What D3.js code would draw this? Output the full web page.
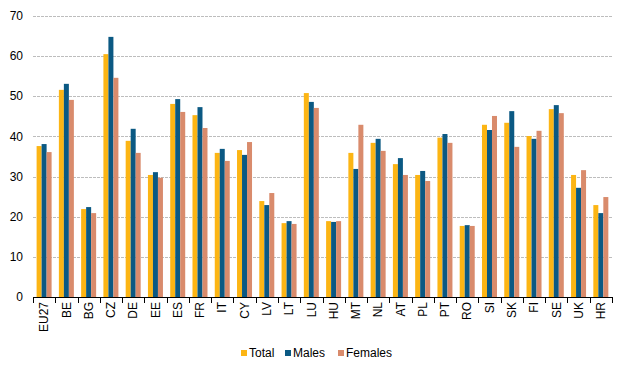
<!DOCTYPE html>
<html>
<head>
<meta charset="utf-8">
<script src="https://cdn.jsdelivr.net/npm/d3@7"></script>
<style>
  body { margin: 0; background: #fff; }
  text { font-family: "Liberation Sans", Arial, sans-serif; fill: #000; }
</style>
</head>
<body>
<div class="chart"></div>
<script>
// Chart data
var countries = ["EU27","BE","BG","CZ","DE","EE","ES","FR","IT","CY","LV","LT","LU",
                 "HU","MT","NL","AT","PL","PT","RO","SI","SK","FI","SE","UK","HR"];
var totalValues = [37.6,51.6,21.9,60.5,38.9,30.4,48.1,45.3,35.9,36.6,23.9,18.4,50.8,
                   18.9,35.9,38.4,33.1,30.4,39.7,17.7,42.9,43.4,40.1,46.8,30.4,22.9];
var maleValues = [38.1,53.1,22.4,64.8,41.9,31.1,49.3,47.3,36.9,35.4,22.9,18.9,48.6,
                  18.7,31.9,39.4,34.6,31.4,40.6,17.9,41.6,46.3,39.4,47.8,27.2,20.9];
var femaleValues = [36.1,49.1,20.9,54.6,35.9,29.7,46.1,42.1,33.9,38.6,25.9,18.2,47.1,
                    18.9,42.9,36.4,30.4,28.9,38.4,17.7,45.1,37.4,41.4,45.8,31.6,24.9];
var seriesNames = ["Total","Males","Females"];
var yTicks = [0,10,20,30,40,50,60,70];

var colors = {"Total": "#fcb514", "Males": "#0b5983", "Females": "#d98b6c"};

var svgWidth = 620;
var svgHeight = 371;
var margin = {top: 16, right: 7, bottom: 74, left: 33};
var width = svgWidth - margin.left - margin.right;
var height = svgHeight - margin.top - margin.bottom;

var svg = d3.select(".chart")
    .append("svg")
    .attr("width", svgWidth)
    .attr("height", svgHeight);

var chart = svg.append("g")
    .attr("transform", "translate(" + margin.left + "," + margin.top + ")");

var rows = countries.map(function(c, i) {
    return {country: c, Total: totalValues[i], Males: maleValues[i], Females: femaleValues[i]};
});

var x0 = d3.scaleBand().domain(countries).range([0, 579]).paddingInner(0).paddingOuter(0);
var x1 = d3.scaleBand().domain(seriesNames).range([3.6, 3.6 + 15]);
var y = d3.scaleLinear().domain([0, 70]).range([height, 0]);

// gridlines
chart.append("g")
    .selectAll("line")
    .data(yTicks.filter(function(d) { return d > 0; }))
    .enter()
    .append("line")
    .attr("x1", 0)
    .attr("x2", 579)
    .attr("y1", function(d) { return Math.round(y(d)) + 0.5; })
    .attr("y2", function(d) { return Math.round(y(d)) + 0.5; })
    .style("stroke", "#bdbdbd")
    .style("stroke-width", 1)
    .style("stroke-dasharray", "3,1");

// bars
var groups = chart.selectAll(".grp")
    .data(rows)
    .enter()
    .append("g")
    .attr("class", "grp")
    .attr("transform", function(d) { return "translate(" + x0(d.country) + ",0)"; });

groups.selectAll("rect")
    .data(function(d) { return seriesNames.map(function(s) { return {key: s, value: d[s]}; }); })
    .enter()
    .append("rect")
    .attr("x", function(d) { return x1(d.key); })
    .attr("width", x1.bandwidth())
    .attr("y", function(d) { return y(d.value); })
    .attr("height", function(d) { return height - y(d.value); })
    .style("fill", function(d) { return colors[d.key]; });

// y axis labels
chart.append("g")
    .selectAll("text")
    .data(yTicks)
    .enter()
    .append("text")
    .attr("x", -10)
    .attr("y", function(d) { return y(d); })
    .attr("dy", "0.35em")
    .attr("text-anchor", "end")
    .style("font-size", "12px")
    .text(function(d) { return d; });

// x axis
var bottomAxis = d3.axisBottom(x0).tickSize(0).tickPadding(0);
var xAxis = chart.append("g")
    .attr("transform", "translate(0," + height + ")")
    .call(bottomAxis);
xAxis.select(".domain").remove();

xAxis.append("line")
    .attr("x1", 0).attr("x2", 579)
    .attr("y1", 0.5).attr("y2", 0.5)
    .style("stroke", "#000");

xAxis.selectAll(".sep")
    .data(d3.range(countries.length + 1))
    .enter()
    .append("line")
    .attr("class", "sep")
    .attr("x1", function(i) { return Math.round(i * x0.step()) + 0.5; })
    .attr("x2", function(i) { return Math.round(i * x0.step()) + 0.5; })
    .attr("y1", 0).attr("y2", 6)
    .style("stroke", "#000");

xAxis.selectAll(".tick text")
    .attr("transform", "rotate(-90)")
    .attr("x", -5)
    .attr("y", 0)
    .attr("dy", "0.35em")
    .attr("text-anchor", "end")
    .style("font-size", "12px")
    .style("font-family", "'Liberation Sans', Arial, sans-serif")
    .style("fill", "#000");

// legend
var legendItems = [{name: "Total", x: 241}, {name: "Males", x: 285}, {name: "Females", x: 338}];
var legend = svg.append("g");
legend.selectAll("rect")
    .data(legendItems)
    .enter()
    .append("rect")
    .attr("x", function(d) { return d.x; })
    .attr("y", 350)
    .attr("width", 6)
    .attr("height", 6)
    .style("fill", function(d) { return colors[d.name]; });
legend.selectAll("text")
    .data(legendItems)
    .enter()
    .append("text")
    .attr("x", function(d) { return d.x + 8; })
    .attr("y", 353)
    .attr("dy", "0.35em")
    .style("font-size", "12px")
    .text(function(d) { return d.name; });
</script>
</body>
</html>
